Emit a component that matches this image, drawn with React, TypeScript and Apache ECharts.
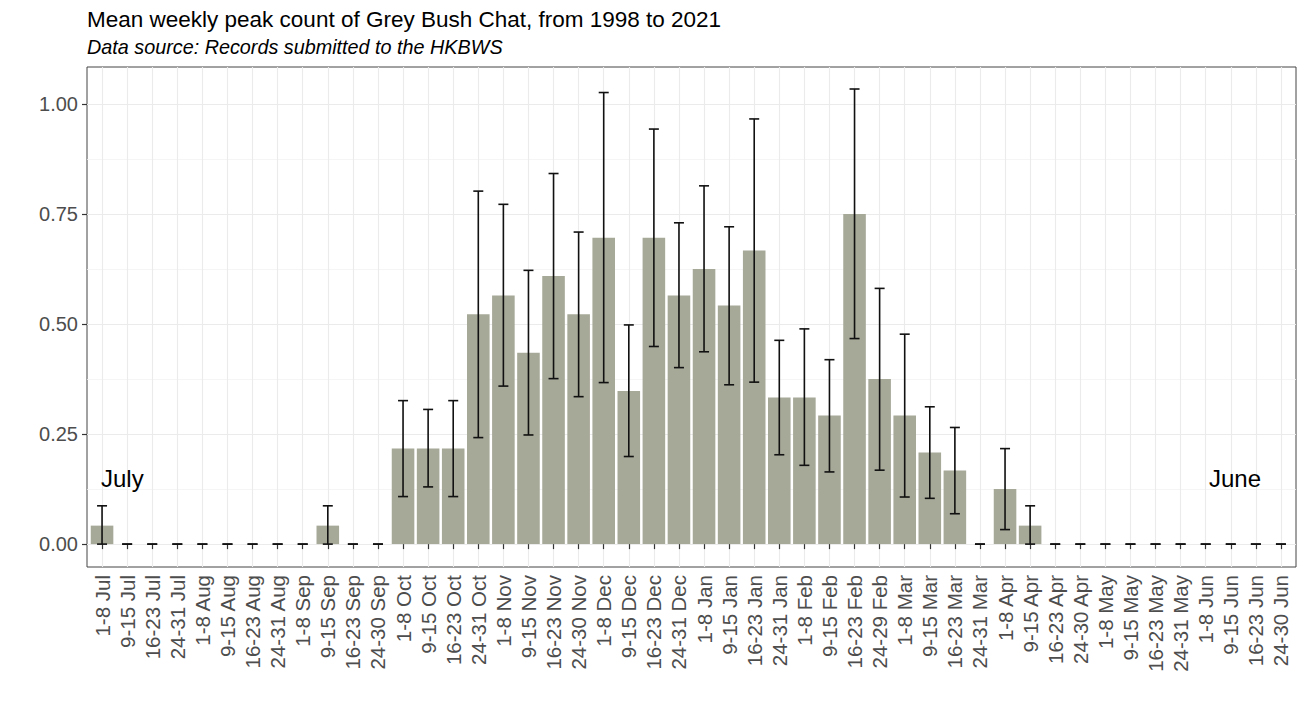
import React, { useEffect, useRef } from "react";
import * as echarts from "echarts";

const categories: string[] = [
  "1-8 Jul", "9-15 Jul", "16-23 Jul", "24-31 Jul",
  "1-8 Aug", "9-15 Aug", "16-23 Aug", "24-31 Aug",
  "1-8 Sep", "9-15 Sep", "16-23 Sep", "24-30 Sep",
  "1-8 Oct", "9-15 Oct", "16-23 Oct", "24-31 Oct",
  "1-8 Nov", "9-15 Nov", "16-23 Nov", "24-30 Nov",
  "1-8 Dec", "9-15 Dec", "16-23 Dec", "24-31 Dec",
  "1-8 Jan", "9-15 Jan", "16-23 Jan", "24-31 Jan",
  "1-8 Feb", "9-15 Feb", "16-23 Feb", "24-29 Feb",
  "1-8 Mar", "9-15 Mar", "16-23 Mar", "24-31 Mar",
  "1-8 Apr", "9-15 Apr", "16-23 Apr", "24-30 Apr",
  "1-8 May", "9-15 May", "16-23 May", "24-31 May",
  "1-8 Jun", "9-15 Jun", "16-23 Jun", "24-30 Jun",
];

const means: number[] = [
  0.042, 0, 0, 0,
  0, 0, 0, 0,
  0, 0.042, 0, 0,
  0.217, 0.217, 0.217, 0.522,
  0.565, 0.435, 0.609, 0.522,
  0.696, 0.348, 0.696, 0.565,
  0.625, 0.542, 0.667, 0.333,
  0.333, 0.292, 0.75, 0.375,
  0.292, 0.208, 0.167, 0,
  0.125, 0.042, 0, 0,
  0, 0, 0, 0,
  0, 0, 0, 0,
];

const lows: number[] = [
  0, 0, 0, 0,
  0, 0, 0, 0,
  0, 0, 0, 0,
  0.108, 0.13, 0.108, 0.242,
  0.359, 0.248, 0.376, 0.335,
  0.367, 0.199, 0.449, 0.401,
  0.437, 0.362, 0.368, 0.203,
  0.179, 0.164, 0.467, 0.168,
  0.107, 0.104, 0.069, 0,
  0.033, 0, 0, 0,
  0, 0, 0, 0,
  0, 0, 0, 0,
];

const highs: number[] = [
  0.087, 0, 0, 0,
  0, 0, 0, 0,
  0, 0.087, 0, 0,
  0.326, 0.306, 0.326, 0.802,
  0.772, 0.622, 0.842, 0.709,
  1.026, 0.498, 0.943, 0.73,
  0.814, 0.721, 0.966, 0.463,
  0.489, 0.419, 1.034, 0.581,
  0.477, 0.312, 0.265, 0,
  0.217, 0.087, 0, 0,
  0, 0, 0, 0,
  0, 0, 0, 0,
];

const yTickLabels: number[] = [0, 0.25, 0.5, 0.75, 1.0];

const FONT = "'Liberation Sans', Arial, Helvetica, sans-serif";

const W = 1305;
const H = 712;
const PL = 87;
const PR = 1296;
const PT = 67;
const PB = 567;
const Y_ZERO = 544;
const Y_ONE = 104;
const Y_MIN = -0.052;
const Y_MAX = 1.084;

export default function App() {
  const ref = useRef<HTMLDivElement | null>(null);

  useEffect(() => {
    document.body.style.margin = "0";
    if (!ref.current) return;
    const chart = echarts.init(ref.current, null, { renderer: "svg" });
    const n = categories.length;
    // ggplot discrete expansion: 0.6 category on each side
    const catW = (PR - PL) / (n - 1 + 1.2);
    const inset = 0.1 * catW;
    const half = 0.6 * catW;

    const errData = categories.map((_, i) => [i, lows[i], highs[i]]);

    const option: any = {
      animation: false,
      backgroundColor: "#ffffff",
      textStyle: { fontFamily: FONT },
      title: [
        {
          text: "Mean weekly peak count of Grey Bush Chat, from 1998 to 2021",
          left: PL,
          top: 8,
          padding: 0,
          textStyle: { fontFamily: FONT, fontSize: 22.5, fontWeight: "normal", color: "#000" },
        },
        {
          text: "Data source: Records submitted to the HKBWS",
          left: PL,
          top: 37,
          padding: 0,
          textStyle: { fontFamily: FONT, fontSize: 19.8, fontWeight: "normal", fontStyle: "italic", color: "#000" },
        },
      ],
      grid: [
        // bars
        { left: PL + inset, right: W - PR + inset, top: PT, bottom: H - PB, show: false },
        // horizontal grid lines + y labels
        { left: PL, right: W - PR, top: Y_ONE, bottom: H - Y_ZERO, show: false },
        // vertical grid lines at category centres
        { left: PL + half, right: W - PR + half, top: PT, bottom: H - PB, show: false },
        // panel border
        {
          left: PL, right: W - PR, top: PT, bottom: H - PB,
          show: true, borderColor: "#444", borderWidth: 1, backgroundColor: "transparent",
        },
      ],
      xAxis: [
        {
          type: "category",
          gridIndex: 0,
          data: categories,
          boundaryGap: true,
          axisLine: { show: false },
          axisTick: { show: true, alignWithLabel: true, interval: 0, length: 5, lineStyle: { color: "#333", width: 1.2 } },
          axisLabel: {
            interval: 0, rotate: 90, margin: 8,
            fontFamily: FONT, fontSize: 20.5, color: "#4d4d4d",
          },
          splitLine: { show: false },
        },
        { type: "value", gridIndex: 1, min: 0, max: 1, show: false },
        {
          type: "category", gridIndex: 2, data: categories, boundaryGap: false,
          axisLine: { show: false }, axisTick: { show: false }, axisLabel: { show: false },
          splitLine: { show: true, interval: 0, lineStyle: { color: "#ebebeb", width: 1.1 } },
        },
        { type: "value", gridIndex: 3, min: 0, max: 1, show: false },
      ],
      yAxis: [
        {
          type: "value", gridIndex: 0, min: Y_MIN, max: Y_MAX,
          axisLine: { show: false }, axisTick: { show: false }, axisLabel: { show: false },
          splitLine: { show: false },
        },
        {
          type: "value", gridIndex: 1,
          min: yTickLabels[0], max: yTickLabels[yTickLabels.length - 1], interval: 0.25,
          axisLine: { show: false },
          axisTick: { show: true, length: 5, lineStyle: { color: "#333", width: 1.2 } },
          axisLabel: {
            margin: 9, fontFamily: FONT, fontSize: 20, color: "#4d4d4d",
            formatter: (v: number) => v.toFixed(2),
          },
          splitLine: { show: true, lineStyle: { color: "#ebebeb", width: 1.1 } },
          minorTick: { show: false, splitNumber: 2 },
          minorSplitLine: { show: true, lineStyle: { color: "#f2f2f2", width: 0.8 } },
        },
        { type: "value", gridIndex: 2, min: 0, max: 1, show: false },
        { type: "value", gridIndex: 3, min: 0, max: 1, show: false },
      ],
      series: [
        {
          type: "bar",
          xAxisIndex: 0,
          yAxisIndex: 0,
          data: means,
          barCategoryGap: "10%",
          itemStyle: { color: "#a6a898" },
          z: 3,
        },
        {
          type: "custom",
          xAxisIndex: 0,
          yAxisIndex: 0,
          data: errData,
          encode: { x: 0, y: [1, 2] },
          z: 4,
          renderItem: (params: any, api: any) => {
            const i = api.value(0);
            const lo = api.coord([i, api.value(1)]);
            const hi = api.coord([i, api.value(2)]);
            const hw = 5;
            const st = { stroke: "#111", lineWidth: 1.6 };
            return {
              type: "group",
              children: [
                { type: "line", shape: { x1: lo[0], y1: lo[1], x2: hi[0], y2: hi[1] }, style: st },
                { type: "line", shape: { x1: lo[0] - hw, y1: lo[1], x2: lo[0] + hw, y2: lo[1] }, style: st },
                { type: "line", shape: { x1: hi[0] - hw, y1: hi[1], x2: hi[0] + hw, y2: hi[1] }, style: st },
              ],
            };
          },
        },
      ],
      graphic: [
        {
          type: "text", left: 101, top: 466, z: 10,
          style: { text: "July", fontFamily: FONT, fontSize: 24, fill: "#000" },
        },
        {
          type: "text", right: W - 1261, top: 466, z: 10,
          style: { text: "June", fontFamily: FONT, fontSize: 24, fill: "#000" },
        },
      ],
    };

    chart.setOption(option);
    return () => {
      chart.dispose();
    };
  }, []);

  return <div ref={ref} style={{ width: W, height: H }} />;
}
